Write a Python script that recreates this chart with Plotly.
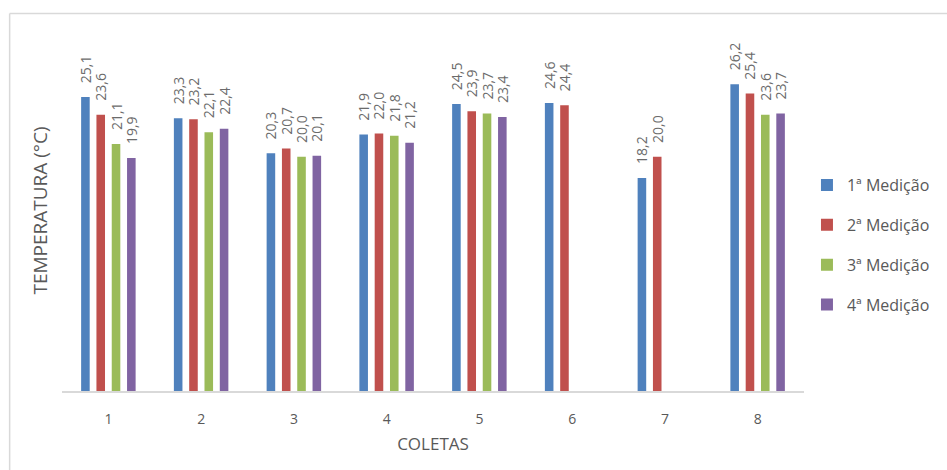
import plotly.graph_objects as go

# Coletas (sampling rounds) and temperature readings per measurement
coletas = ["1", "2", "3", "4", "5", "6", "7", "8"]
medicao_1 = [25.1, 23.3, 20.3, 21.9, 24.5, 24.6, 18.2, 26.2]
medicao_2 = [23.6, 23.2, 20.7, 22.0, 23.9, 24.4, 20.0, 25.4]
medicao_3 = [21.1, 22.1, 20.0, 21.8, 23.7, None, None, 23.6]
medicao_4 = [19.9, 22.4, 20.1, 21.2, 23.4, None, None, 23.7]

series_names = ["1ª Medição", "2ª Medição", "3ª Medição", "4ª Medição"]
series_values = [medicao_1, medicao_2, medicao_3, medicao_4]
series_colors = ["#4F81BD", "#C0504D", "#9BBB59", "#8064A2"]

FONT = "Open Sans"
PAD = "\u00a0\u00a0\u00a0"  # lift of the value labels above the bar tops


def fmt(v):
    return "" if v is None else PAD + f"{v:.1f}".replace(".", ",")


fig = go.Figure()
for i, (name, vals, color) in enumerate(zip(series_names, series_values, series_colors)):
    fig.add_trace(go.Bar(
        x=coletas,
        y=vals,
        name=name,
        legendgroup=f"g{i}",
        marker=dict(color=color, line=dict(width=0)),
        text=[fmt(v) for v in vals],
        textposition="outside",
        textangle=-90,
        constraintext="none",
        textfont=dict(family=FONT, size=14, color="#6b6b6b"),
        cliponaxis=False,
    ))

# Plot-area geometry in pixels (used to place the outer frame lines)
W, H = 947, 470
L, R, T, B = 62, 141, 30, 79
pw, ph = W - L - R, H - T - B
fx = (9.5 - L) / pw
fy = (H - B - 13.5) / ph

fig.update_layout(
    width=W,
    height=H,
    margin=dict(l=L, r=R, t=T, b=B),
    paper_bgcolor="white",
    plot_bgcolor="white",
    barmode="group",
    bargap=0.34,
    bargroupgap=0.44,
    uniformtext=dict(mode=False),
    font=dict(family=FONT, color="#595959"),
    xaxis=dict(
        showline=True,
        linecolor="#d9d9d9",
        linewidth=1.5,
        ticks="",
        ticklabelstandoff=14,
        showgrid=False,
        tickfont=dict(family=FONT, size=14, color="#595959"),
        title=dict(text="COLETAS", font=dict(family=FONT, size=17, color="#595959"), standoff=12),
    ),
    yaxis=dict(
        range=[0, 30.83],
        showline=False,
        showgrid=False,
        zeroline=False,
        showticklabels=False,
        ticks="",
        title=dict(text="TEMPERATURA (°C)", font=dict(family=FONT, size=19, color="#595959"), standoff=8),
    ),
    legend=dict(
        x=1.004,
        xanchor="left",
        y=0.404,
        yanchor="middle",
        traceorder="grouped",
        tracegroupgap=16,
        font=dict(family=FONT, size=16, color="#595959"),
        itemwidth=30,
    ),
    shapes=[
        dict(type="line", xref="paper", yref="paper", x0=fx, x1=fx, y0=-1, y1=fy,
             line=dict(color="#d9d9d9", width=1.5)),
        dict(type="line", xref="paper", yref="paper", x0=fx, x1=2, y0=fy, y1=fy,
             line=dict(color="#d9d9d9", width=1.5)),
    ],
)

fig.write_html("out.html")
